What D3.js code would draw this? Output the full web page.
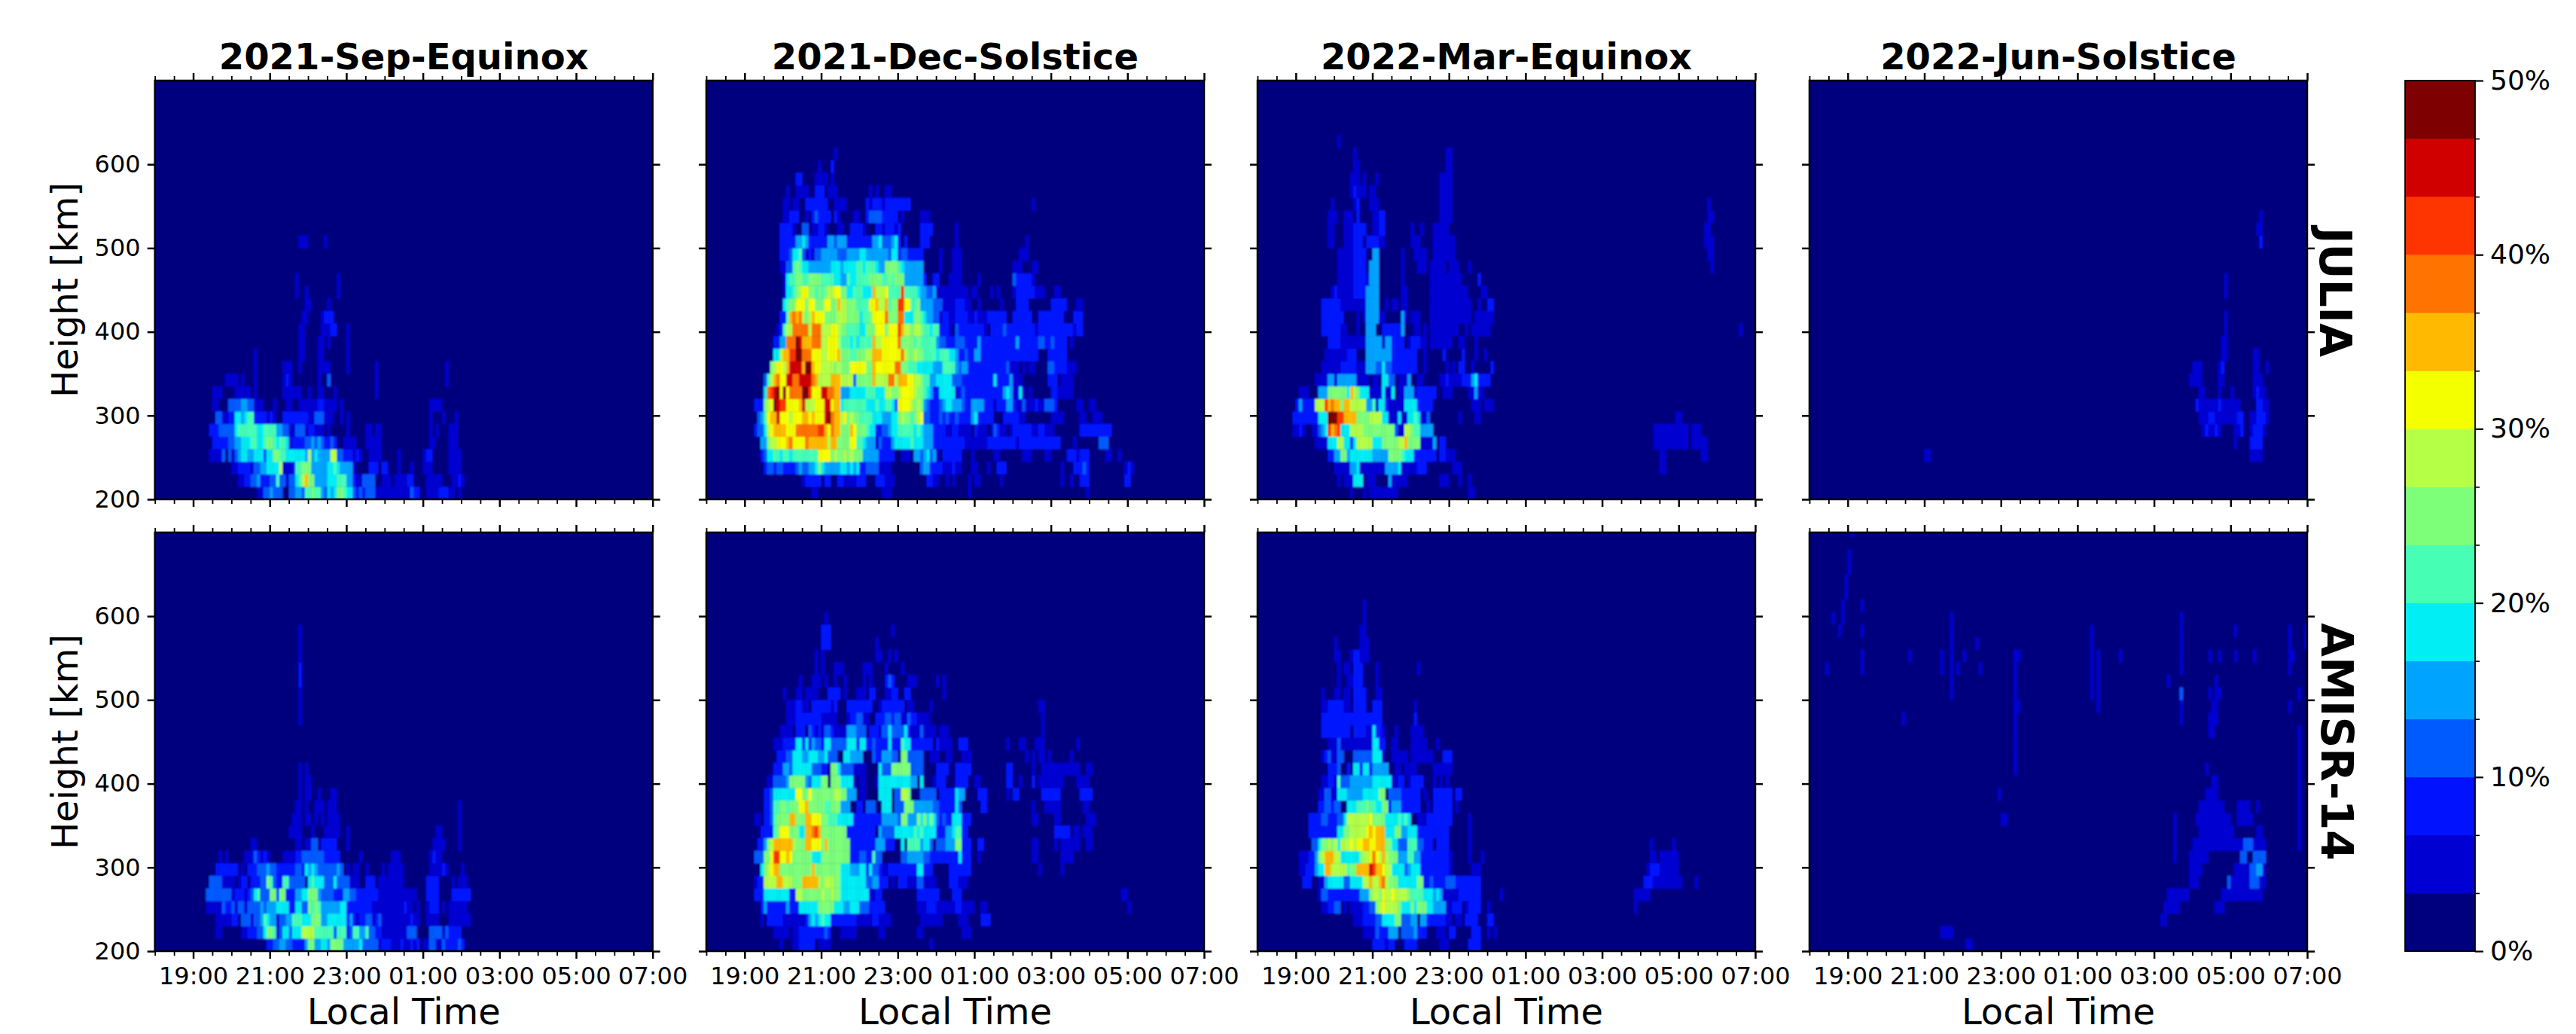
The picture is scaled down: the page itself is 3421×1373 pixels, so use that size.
<!DOCTYPE html>
<html>
<head>
<meta charset="utf-8">
<script src="https://cdn.jsdelivr.net/npm/d3@7"></script>
<style>
html,body{margin:0;padding:0;background:#fff}
svg{display:block}
text{font-family:"DejaVu Sans",sans-serif;fill:#000}
</style>
</head>
<body>
<div id="chart"></div>
<script>
// Occurrence level per 5-minute column, one string per 15 km height row, lowest row (200 km) first.
// Each 6-character token is one half hour starting at 18:00; "_n" skips n empty half hours.
// Digit = colour band (0-9, a-e), each band 3.33 % wide.
const juliaSep = [
"_5 001133 433300 334436 676643 545776 553232 333111 111111 113220 011112 221101",
"_4 001122 334222 336331 33568a 774444 555666 442113 333001 110111 122000 011111 000112 1",
"_4 112222 133445 555811 126677 744444 556544 441000 022202 200010 001000 111000 001111",
"_2 000001 111303 134554 455535 577665 555554 845444 488332 221210 011110 000010 _1 122000 001111",
"_3 222223 344555 665567 765665 122223 343432 232001 111000 111110 _2 001100 001110",
"_2 000002 223333 356666 665566 664433 113331 221110 100000 100000 110110 _2 001010 001110",
"_3 033112 255456 622221 210022 222222 113331 110010 100000 _3 001000 100010",
"_3 110003 333443 311100 010001 100111 111221 111010 _4 001111",
"_3 111000 011111 010000 000011 111100 100110 001000 _1 000100",
"_3 000011 110100 010000 000012 100000 000100 300000 _1 000100 _3 010000",
"_5 010000 000011 100100 000111 100000 100000 000100 _3 010000",
"_5 010000 _1 000110 000110 000000 100000",
"_7 000110 000110 100000 100000",
"_7 000110 000011 122000 100000",
"_7 000011 000012 220000",
"_7 000001 100000 100000",
"_7 001001 _1 000100",
"_7 001000 _1 000100",
"", "",
"_7 000111 000001"
];
const juliaDec = [
"_5 000110 _3 011100 _3 000010 _5 000001",
"_5 122222 022002 211112 220002 221110 _1 000221 100101 000010 110000 001000 _2 000100 100222 _1 000002 200000",
"_3 233233 222234 334457 544444 554545 223333 111100 _1 034422 221112 110001 100010 022200 _2 000100 022232 _1 000001 210000",
"_2 000002 355665 665666 666669 999787 787877 744444 222220 011104 434534 102222 220001 _1 110000 000111 000011 000002 221222 000001 100100",
"_2 000004 478899 9ab999 9baaaa aa8aa7 777996 654441 322245 555565 554442 222222 222111 111122 222222 212222 222222 222000 010000 000333",
"_2 000233 589aaa a999bb bbbbbc ca9baa 777a97 776552 233455 666665 654442 222112 211110 211101 321101 222222 112211 100000 000222 222222 200000",
"_2 000034 69aad9 998999 aa9a99 9debaa 897877 666655 544455 787767 893322 232322 322224 522222 000222 221100 _1 111100 000110 011100",
"_2 000222 789edc c9999a d88899 9dd9aa 566666 665556 556653 999987 874322 234554 443224 444222 122244 211311 121133 320000 001100 110000",
"_3 5bcde9 e9bbbb eec999 ddbbaa 444555 556665 558877 899998 776542 255555 123222 222222 222454 115101 _1 221111 100000",
"_3 368ab9 9ddbbd dddba8 888aaa 888837 7777a8 888bb8 aaa998 876644 555553 332222 222222 522224 111000 000002 220111 100000",
"_3 007899 8adddd aeea99 888878 777999 9977a9 99999b b77666 555554 446666 434422 222222 222231 110101 100003 322221 110000",
"_3 000558 aaccee bbb999 88999a 777667 7788aa a99999 9b8778 776666 566655 422322 442222 222222 222222 220002 222220",
"_3 000224 4bbbed aaabbb 889998 666565 6666a8 899999 b77776 766666 433222 333222 242222 222222 242222 223322 322220 100000",
"_3 000012 688bbb bb8bbb 888998 776666 557779 997999 ca8878 876656 622210 322222 222102 222322 222222 212222 222222 212200",
"_3 000002 26abab 878a99 977778 887777 566799 99b777 bb5557 765443 312211 222211 211122 222200 222222 002222 222200 022200",
"_4 567799 979977 79977a 887776 66699a 88a677 cc9966 744443 331111 222110 010000 001000 022220 _1 222220 001100",
"_4 155678 997767 678899 775566 6555a8 889666 6c6666 544334 111111 111101 100001 010000 122222 211100 011000",
"_4 156677 667777 666655 446556 666777 766767 774444 442002 200011 110000 010000 _1 322222 100000",
"_3 000001 133676 554444 444555 455556 656665 447777 654444 440000 010001 110000 _2 111000 110000",
"_3 000002 223556 312133 444443 334444 554444 444355 233222 220000 010001 110000 _2 001110",
"_3 000002 222244 542222 224434 442222 222244 533345 202000 022200 _1 100000 _2 000010",
"_3 000002 222100 330112 210001 100222 210002 212221 200000 022220 _1 100000",
"_4 112220 010232 222021 000011 002333 322222 010000 011100",
"_4 110110 022222 220011 110000 002122 212222 222200 _6 100000",
"_4 010011 110022 201110 _1 000101 001100",
"_4 000022 000011 110100",
"_5 000001 000200",
"_6 000010"
];
const juliaMar = [
"_4 000001 000101 111111 110000 _3 110000",
"_4 010111 555011 100004 111110 _1 000111 000100 100000",
"_4 111114 451111 111144 445111 112220 _1 011100 _10 110000",
"_3 000022 447745 555555 444447 777655 522222 220221 110000 _10 110000 _1 011000",
"_3 111155 588552 588888 555777 7788a7 777111 140220 _10 000011 111111 111011 111000",
"_1 000001 121001 1345ca bc5558 888777 777777 731188 766444 400000 _10 000011 111111 111011 100000",
"_1 000002 222222 2555ee eccaaa a77778 888551 115115 565113 _1 000100 001100 _9 000001 100000",
"_2 242222 888cab aa7aa8 888844 615521 111155 552222 200000 _1 011101 110000",
"_2 011100 044477 77775a 875551 111511 501144 412222 220011 100000 114110",
"_3 111144 144444 411110 110553 301114 001100 000112 111122 245222 200000",
"_3 001111 112222 211144 433533 222222 220010 000001 010220 010000 020000",
"_3 000111 111122 200044 444444 222222 220010 000020 000020 001001",
"_3 000022 221111 111144 444144 222201 222110 111111 100110 001000",
"_3 002222 221100 010044 400222 222400 011010 111111 111001 011111 100000 _12 010000",
"_3 002222 222000 010144 441100 000410 111000 111111 111111 101111 110000",
"_3 002222 221111 111144 440010 110110 _1 111111 111111 100100 220000",
"_3 000001 211111 222244 440000 000110 _1 111111 111111 000011",
"_4 011111 222214 440000 000100 _1 111111 111100 000200",
"_4 011111 222204 440000 000100 001110 111110 111000 100000 _11 000010",
"_4 011111 222200 440000 000100 011110 011111 110000 _12 000110",
"_3 000011 000111 222022 221100 _1 111000 011111 110000 _12 001110",
"_3 000011 000111 222200 112200 _1 100100 011111 _13 001100",
"_3 000011 100111 020000 112200 _2 000111 100000 _12 000110",
"_3 000001 _1 120001 110000 _2 000111 100000 _12 000100",
"_4 000001 211101 100000 _2 000111 100000",
"_4 000001 110100 010000 _2 000111 100000",
"_5 110000 _3 000001 100000",
"_5 100000 _3 000001 100000",
"_4 010000"
];
const juliaJun = [
"", "", "",
"_6 110000 _16 111100",
"_22 010000 222200",
"_20 000121 121000 011200 122210",
"_20 001112 211111 112200 112221",
"_20 021111 112111 111000 002211",
"_20 001100 001000 100000 012110",
"_19 000001 111000 001100 _1 011100",
"_20 111000 001200 _1 011001",
"_21 000110 _1 011000",
"_21 000110",
"_21 000010",
"_21 000010",
"",
"_21 000010",
"_21 000010",
"", "",
"_23 000200",
"_23 001100",
"_23 000100"
];
const amisrSep = [
"_5 000002 233443 322224 774455 477774 444453 333312 221112 112120 113311 322223 2",
"_3 011000 000112 223357 761355 355588 886666 663666 236644 633221 111111 133300 003333 132222",
"_3 011111 220333 133465 441334 466655 577744 555555 242122 331231 111111 112110 011110 001111 111",
"_2 000011 111322 313313 333434 445555 225533 767644 444455 222222 221111 111111 211010 012220 101111 11",
"_2 000033 333333 122212 356333 773772 224455 777433 332224 433222 222211 111111 111100 022220 000222 222",
"_2 000003 333111 101220 222337 632266 333330 565553 335333 311100 222011 111111 _1 022220 000101 11",
"_3 022222 220102 223334 332222 223325 454333 333430 101100 100001 011111 _1 001111 210000 1",
"_3 001010 000011 132121 000011 112233 333332 222200 000010 _1 001110 _1 001211",
"_5 110000 _1 001101 133022 222000 100000 _3 000111 100001",
"_7 111100 010001 111100 100000 _3 000011 000001",
"_7 011101 101010 111100 _5 000001",
"_7 001101 001110 111000 _5 000001",
"_7 000101 100100 011000",
"_7 000101 100000",
"_7 000101",
"", "", "",
"_7 000100",
"_7 000100",
"_7 000100",
"_7 000200",
"_7 000200",
"_7 000100",
"_7 000100",
"_7 000100"
];
const amisrDec = [
"_3 000001 000112 222201 111000 _4 000010",
"_3 000111 110112 222222 232000 111110 _1 110000 _1 110000 _1 001110",
"_2 000001 022222 111111 124545 655222 222221 111122 111100 _1 011111 110000 011100 002220",
"_2 000002 422222 242225 555557 777755 544555 333222 220000 _1 111222 111111 221111 001100 _7 100000",
"_2 000222 555555 552288 777777 877877 555555 555112 200000 _1 222222 200002 220000 _7 000011",
"_2 000122 8888aa 888777 aaaaa8 788877 555555 553344 222010 222111 331111 000022 211100",
"_2 000005 789aa7 777777 777a77 777777 555444 552533 211222 222222 552220 000022 222220 _3 001000 000100",
"_2 000333 779cc9 9a9777 777555 777777 777222 332263 300000 033444 443322 222222 252220 010000 _2 110000 000111 100000",
"_2 000022 478aaa aaa877 7aa999 7a7777 777222 222224 442220 050666 645530 333444 772220 022000 _2 110000 010111 111001 100000",
"_2 000002 222679 997775 5aabca 777777 772222 222220 433335 555556 565555 222445 662200 _4 022222 011011 100000",
"_2 000110 223677 77aa77 7aa999 776665 555522 222222 244444 377444 757575 323225 552220 _3 110000 011000 000001 110000",
"_3 223667 767779 9a7777 766777 444002 203330 055503 337774 444443 322222 530000 002200 _2 100011 111000 000011",
"_3 223555 555599 779777 777788 774440 110000 555503 388700 033333 022222 544000 022200 000010 220000 000222 222000 000222 2",
"_3 011333 347777 743555 770777 555510 110001 555555 555544 050001 222000 222200 110000 000022 001000 201111 111100 001111",
"_3 000222 443555 555333 220775 333311 110000 533377 777733 330000 222200 222220 _1 000022 _1 100111 111111 111001 1",
"_3 000022 233555 445554 453330 055444 400032 244433 077333 330011 100110 001110 _2 000010 101101 _1 100000",
"_3 000111 222255 252433 255333 335552 552232 222522 265522 222220 211110 022200 _1 000010 001100 011100 _1 001000",
"_3 000001 111022 203212 133211 114443 330222 133533 335211 131111 011100 _4 000100",
"_4 011122 222222 111110 001223 311002 223323 311322 111100 _5 000100",
"_4 011122 110222 222120 002222 222200 122222 220110 000010 _5 001100",
"_4 100011 011110 002222 010001 110220 001122 002200 _1 001000",
"_4 000001 000111 010010 010000 010100 002320 000111 _1 101000",
"_5 000010 100011 100000 011100 001000 010000",
"_5 000010 100000 _1 000001 100101",
"_6 222000 _1 000001",
"_6 222000 _2 000010",
"_6 010000"
];
const amisrMar = [
"_6 222212 200022 220000 000111 _1 222200",
"_5 000111 132224 440333 342220 001110 220000 022200 101000",
"_5 111222 233555 577333 440442 222221 101102 222000 220000",
"_3 001122 330101 111223 378988 887555 757775 544441 122201 222200 100000 _6 000010",
"_3 013322 222222 224447 887988 988887 666655 545411 111222 222200 000010 _6 000011 111000",
"_2 002220 011455 555335 55588a 88ab87 775555 557722 322223 332222 222200 _8 022211 111111 100001",
"_2 011222 455aa8 888867 7aaaad caa988 555534 555222 222222 100000 011100 _8 001222 111111",
"_2 011122 478aaa 885555 557889 b98a87 774446 644222 222222 100000 100010 _8 000110 111111",
"_2 000003 357787 858889 899aa9 9aaa77 553336 663322 202222 _1 100000 _8 000100 000010",
"_2 000022 222222 255778 88889a 9aaa55 577445 552222 222222 _1 100000",
"_2 000022 223322 233588 888889 777755 556565 001112 222222 200000 100000",
"_3 022332 330055 566676 655772 444222 222001 022222 201000",
"_3 011331 155544 444555 557703 333222 222010 022222 202200",
"_3 001122 163334 444444 555555 112201 222200 010101",
"_3 000022 230020 552552 444440 011011 110000 011111 100000",
"_3 001231 133000 333333 555100 111110 111111 100022 200000",
"_3 000011 131111 111111 552200 110000 111110 001000",
"_3 002222 222220 222211 522100 010000 111100",
"_3 002222 222222 222222 222000 _1 020000",
"_3 001122 222110 222200 222000 _1 010000",
"_3 001000 110110 222200 011000",
"_4 010011 222000 010000",
"_4 010110 222000 010000 _1 001000",
"_4 110001 221110",
"_4 100000 001110",
"_5 001100",
"_5 000100",
"_5 000100"
];
const amisrJun = [
"_8 011000",
"_6 000001 111000",
"_18 001100",
"_18 000111 110000 _1 011100",
"_18 000011 111110 _1 000111 111111 111100",
"_19 000001 110000 000003 111111 333110",
"_19 000001 111000 _1 011111 334410",
"_19 100001 111110 _1 000330 033330",
"_19 100000 111111 111111 111133 311110 _1 000100",
"_19 100000 001111 111111 100000 001100 _1 000100",
"_10 110000 _8 100000 011111 111111 001111 100000 _1 000100",
"_20 001111 111100 001111 001000 _1 000100",
"_9 000001 _10 000011 110000 _3 000100",
"_21 110000 _3 000100",
"_10 000010 _9 000010 _4 000100",
"_10 000010 _14 000100",
"_10 000010 _14 000100",
"_10 000010 _9 000001 100000 _3 000100",
"_4 000001 _5 000010 _8 001000 000001 110000",
"_10 000011 _4 100000 _3 001000 _1 110000 _3 100000",
"_7 001000 _2 000010 _3 000010 100000 _3 003000 000001 011000 _3 000100",
"_7 001000 _2 000010 _3 000010 100000 _2 000010 _2 010000",
"000001 _1 000010 _3 000001 001010 000001 _1 000010 _3 000010 100000 _3 001000 _5 100000",
"_2 000010 _2 010000 000001 001000 100000 _1 000011 _3 000010 100000 010000 _2 001000 000001 001000 010000 010000 _1 110000",
"_7 001000 000010 _5 000010 _4 001000 _5 100001",
"_1 000100 000010 _4 001000 _6 000010 _4 001000 _2 010000 _2 100001",
"_1 010010 _5 001000 _11 001000",
"_1 000010 000010",
"_1 000001",
"_1 000001",
"_2 100000",
"_2 100000",
"",
"_2 010000"
];

const seasons = ["2021-Sep-Equinox", "2021-Dec-Solstice", "2022-Mar-Equinox", "2022-Jun-Solstice"];
const instruments = ["JULIA", "AMISR-14"];
const panelData = [juliaSep, juliaDec, juliaMar, juliaJun, amisrSep, amisrDec, amisrMar, amisrJun];
const xLabels = ["19:00", "21:00", "23:00", "01:00", "03:00", "05:00", "07:00"];
const xMajor = [1, 3, 5, 7, 9, 11, 13];            // hours after 18:00
const yTickValues = [200, 300, 400, 500, 600];
const cbLabels = ["0%", "10%", "20%", "30%", "40%", "50%"];
const bandColors = ["#00007f","#0000d2","#0012ff","#005bff","#00a4ff","#00eef4","#46ffb5",
                    "#7dff7a","#b5ff46","#f4ff00","#ffb900","#ff7300","#ff3500","#d10000","#7f0000"];

// ---- layout ----
const W = 3421, H = 1373;
const panelLeft = [205.7, 938, 1670, 2403], panelW = 661;
const panelTop = [107, 707], panelH = 556;
const cbBox = {x: 3194, w: 93, top: 107, bottom: 1263};
const navy = bandColors[0];

const color = d3.scaleQuantize().domain([0, 50]).range(bandColors);
const levelToPct = ch => (parseInt(ch, 16) + 0.5) * 50 / 15;

function parseRows(rows) {
  const cells = [];
  rows.forEach((row, r) => {
    let block = 0;
    row.split(" ").filter(Boolean).forEach(tok => {
      if (tok[0] === "_") { block += +tok.slice(1); return; }
      [...tok].forEach((ch, i) => {
        if (ch !== "0") cells.push({col: block * 6 + i, height: 200 + 15 * r, value: levelToPct(ch)});
      });
      block++;
    });
  });
  return cells;
}

const svg = d3.select("#chart").append("svg").attr("width", W).attr("height", H).attr("viewBox", `0 0 ${W} ${H}`);
const defs = svg.append("defs");
defs.append("filter").attr("id", "soft").attr("x", 0).attr("y", 0).attr("width", 1).attr("height", 1)
  .append("feGaussianBlur").attr("stdDeviation", 0.9);

function styleAxis(g, width, len) {
  g.select(".domain").remove();
  g.selectAll("line").attr("stroke", "#000").attr("stroke-width", width);
  g.selectAll("text").attr("font-size", 32).attr("fill", "#000");
}

panelData.forEach((rows, idx) => {
  const c = idx % 4, r = Math.floor(idx / 4);
  const left = panelLeft[c], top = panelTop[r];
  const x = d3.scaleLinear().domain([0, 13]).range([left, left + panelW]);
  const y = d3.scaleLinear().domain([200, 700]).range([top + panelH, top]);
  const clipId = "clip" + idx;
  defs.append("clipPath").attr("id", clipId).append("rect")
    .attr("x", left).attr("y", top).attr("width", panelW).attr("height", panelH);

  const outer = svg.append("g").attr("clip-path", `url(#${clipId})`);
  const heat = outer.append("g").attr("filter", "url(#soft)");
  heat.append("rect").attr("x", left - 4).attr("y", top - 4)
    .attr("width", panelW + 8).attr("height", panelH + 8).attr("fill", navy);
  heat.selectAll("rect.cell").data(parseRows(rows)).join("rect")
    .attr("class", "cell")
    .attr("x", d => x(d.col / 12))
    .attr("width", d => x((d.col + 1) / 12) - x(d.col / 12) + 0.3)
    .attr("y", d => y(d.height + 15))
    .attr("height", d => y(d.height) - y(d.height + 15) + 0.3)
    .attr("fill", d => color(d.value));

  // frame
  svg.append("rect").attr("x", left).attr("y", top).attr("width", panelW).attr("height", panelH)
    .attr("fill", "none").attr("stroke", "#000").attr("stroke-width", 2.5);

  // time ticks, top and bottom
  const minor = d3.range(0, 13.01, 0.5).filter(v => !xMajor.includes(v));
  [[d3.axisBottom, top + panelH, r === 1], [d3.axisTop, top, false]].forEach(([mk, yy, labelled]) => {
    svg.append("g").attr("transform", `translate(0,${yy})`)
      .call(mk(x).tickValues(minor).tickSize(6).tickFormat("")).call(g => styleAxis(g, 1.8));
    const gM = svg.append("g").attr("transform", `translate(0,${yy})`)
      .call(mk(x).tickValues(xMajor).tickSize(10).tickPadding(7)
        .tickFormat(labelled ? (d, i) => xLabels[i] : "")).call(g => styleAxis(g, 2.5));
    if (labelled) gM.selectAll("text").attr("dy", null).attr("y", 44).attr("dominant-baseline", "auto");
  });
  // height ticks, left and right
  const gL = svg.append("g").attr("transform", `translate(${left},0)`)
    .call(d3.axisLeft(y).tickValues(yTickValues).tickSize(10).tickPadding(9)
      .tickFormat(c === 0 ? d3.format("d") : "")).call(g => styleAxis(g, 2.5));
  svg.append("g").attr("transform", `translate(${left + panelW},0)`)
    .call(d3.axisRight(y).tickValues(yTickValues).tickSize(10).tickFormat("")).call(g => styleAxis(g, 2.5));

  if (r === 0) {
    svg.append("text").attr("x", left + panelW / 2).attr("y", 92).attr("text-anchor", "middle")
      .attr("font-size", 48).attr("font-weight", "bold").text(seasons[c]);
  } else {
    svg.append("text").attr("x", left + panelW / 2).attr("y", 1360).attr("text-anchor", "middle")
      .attr("font-size", 48).text("Local Time");
  }
  if (c === 0) {
    svg.append("text").attr("transform", `translate(103,${top + panelH / 2}) rotate(-90)`)
      .attr("text-anchor", "middle").attr("font-size", 48).text("Height [km]");
  }
  if (c === 3) {
    svg.append("text").attr("transform", `translate(${r === 0 ? 3081 : 3083},${top + panelH / 2 + (r === 0 ? 3 : 0)}) rotate(90)`)
      .attr("text-anchor", "middle").attr("font-size", 58).attr("font-weight", "bold").text(instruments[r]);
  }
});

// ---- colour bar ----
const cbY = d3.scaleLinear().domain([0, 50]).range([cbBox.bottom, cbBox.top]);
svg.append("g").selectAll("rect").data(bandColors).join("rect")
  .attr("x", cbBox.x).attr("width", cbBox.w)
  .attr("y", (d, i) => cbY((i + 1) * 50 / 15))
  .attr("height", (d, i) => cbY(i * 50 / 15) - cbY((i + 1) * 50 / 15) + 0.4)
  .attr("fill", d => d);
svg.append("rect").attr("x", cbBox.x).attr("y", cbBox.top).attr("width", cbBox.w).attr("height", cbBox.bottom - cbBox.top)
  .attr("fill", "none").attr("stroke", "#000").attr("stroke-width", 1.8);
const cbMinor = d3.range(1, 15).map(i => i * 50 / 15).filter(v => Math.abs(v % 10) > 0.01 && Math.abs(v % 10 - 10) > 0.01);
svg.append("g").attr("transform", `translate(${cbBox.x + cbBox.w},0)`)
  .call(d3.axisRight(cbY).tickValues(cbMinor).tickSize(6).tickFormat("")).call(g => styleAxis(g, 1.6));
const cbAxis = svg.append("g").attr("transform", `translate(${cbBox.x + cbBox.w},0)`)
  .call(d3.axisRight(cbY).tickValues([0, 10, 20, 30, 40, 50]).tickSize(11).tickPadding(9)
    .tickFormat((d, i) => cbLabels[i])).call(g => styleAxis(g, 2.2));
cbAxis.selectAll("text").attr("font-size", 36);
</script>
</body>
</html>
